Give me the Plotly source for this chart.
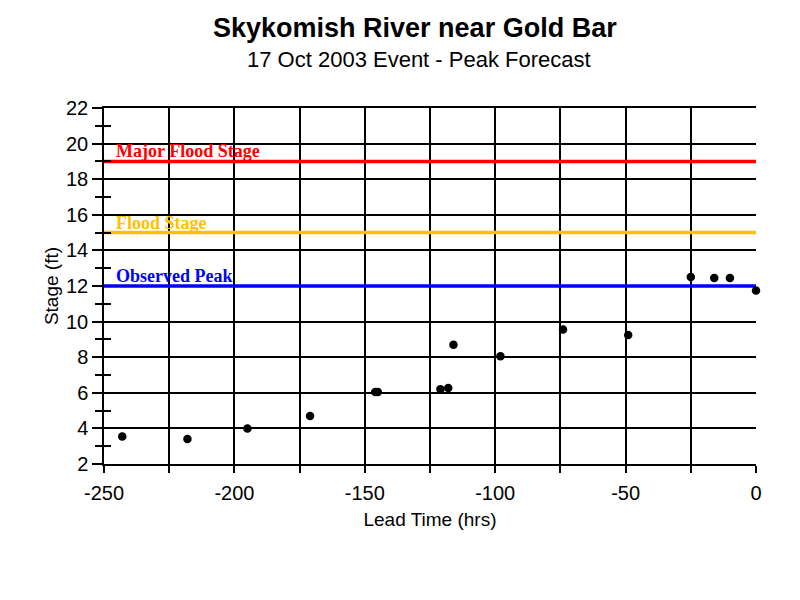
import plotly.graph_objects as go

lead_time = [-243, -218, -195, -171, -146, -145, -121, -118, -116, -98, -74, -49, -25, -16, -10, 0]
stage = [3.55, 3.4, 4.0, 4.7, 6.05, 6.05, 6.2, 6.27, 8.7, 8.05, 9.55, 9.25, 12.5, 12.45, 12.45, 11.75]

x_tick_vals = [-250, -200, -150, -100, -50, 0]
x_tick_text = ["-250", "-200", "-150", "-100", "-50", "0"]

ref_names = ["Major Flood Stage", "Flood Stage", "Observed Peak"]
ref_values = [19, 15, 12]
ref_colors = ["#FF0000", "#FFC000", "#0000FF"]

x_range = [-250, 0]
y_range = [2, 22]

L, R, T, B = 96, 52, 100, 144
PW, PH = 800 - L - R, 600 - T - B

fig = go.Figure()

for name, val, col in zip(ref_names, ref_values, ref_colors):
    fig.add_trace(go.Scatter(x=x_range, y=[val, val], mode="lines",
                             line=dict(color=col, width=3.5), hoverinfo="skip",
                             showlegend=False, cliponaxis=False))
    fig.add_annotation(x=-246, y=val, xref="x", yref="y", text=f"<b>{name}</b>",
                       showarrow=False, xanchor="left", yanchor="bottom", yshift=-2,
                       font=dict(family="Liberation Serif", size=18, color=col))

fig.add_trace(go.Scatter(x=lead_time, y=stage, mode="markers",
                         marker=dict(color="black", size=8.5), showlegend=False,
                         cliponaxis=False))

# overlay axis for inward half of the crossing minor ticks
fig.add_trace(go.Scatter(x=[None], y=[None], yaxis="y2", showlegend=False))

fig.update_layout(
    width=800, height=600,
    margin=dict(l=L, r=R, t=T, b=B),
    paper_bgcolor="white", plot_bgcolor="white",
    showlegend=False,
    font=dict(family="Liberation Sans", color="black"),
    xaxis=dict(range=x_range, tickmode="array", tickvals=x_tick_vals, ticktext=x_tick_text,
               showgrid=True, gridcolor="black",
               gridwidth=1.5, ticks="outside", ticklen=7, tickwidth=1.5, tickcolor="black",
               showline=True, linecolor="black", linewidth=1.5, zeroline=False,
               tickfont=dict(size=20, family="Liberation Sans"), ticklabelstandoff=3,
               minor=dict(dtick=25, tick0=-250, showgrid=True, gridcolor="black", gridwidth=1.5,
                          ticks="outside", ticklen=7, tickwidth=1.5, tickcolor="black"),
               title=dict(text="Lead Time (hrs)", font=dict(size=19), standoff=10),
               mirror=True),
    yaxis=dict(range=y_range, dtick=2, tick0=2, showgrid=True, gridcolor="black",
               gridwidth=1.5, ticks="outside", ticklen=10, tickwidth=1.5, tickcolor="black",
               showline=True, linecolor="black", linewidth=1.5, zeroline=False,
               tickfont=dict(size=20, family="Liberation Sans"),
               minor=dict(dtick=1, tick0=1, showgrid=False, ticks="outside", ticklen=7,
                          tickwidth=1.5, tickcolor="black"),
               title=dict(text="Stage (ft)", font=dict(size=19), standoff=2)),
    yaxis2=dict(range=y_range, overlaying="y", side="left", anchor="x",
                tickvals=[3, 5, 7, 9, 11, 13, 15, 17, 19, 21], ticks="inside", ticklen=7,
                tickwidth=1.5, tickcolor="black", showticklabels=False, showgrid=False,
                zeroline=False, showline=False),
)

fig.add_annotation(x=(407 - L) / PW, y=1 + (T - 20) / PH, xref="paper", yref="paper",
                   text="<b>Skykomish River near Gold Bar</b>", showarrow=False,
                   xanchor="center", yanchor="middle",
                   font=dict(family="Liberation Sans", size=27, color="black"))
fig.add_annotation(x=(411 - L) / PW, y=1 + (T - 51) / PH, xref="paper", yref="paper",
                   text="17 Oct 2003 Event - Peak Forecast", showarrow=False,
                   xanchor="center", yanchor="middle",
                   font=dict(family="Liberation Sans", size=22, color="black"))

fig.write_html("out.html")
